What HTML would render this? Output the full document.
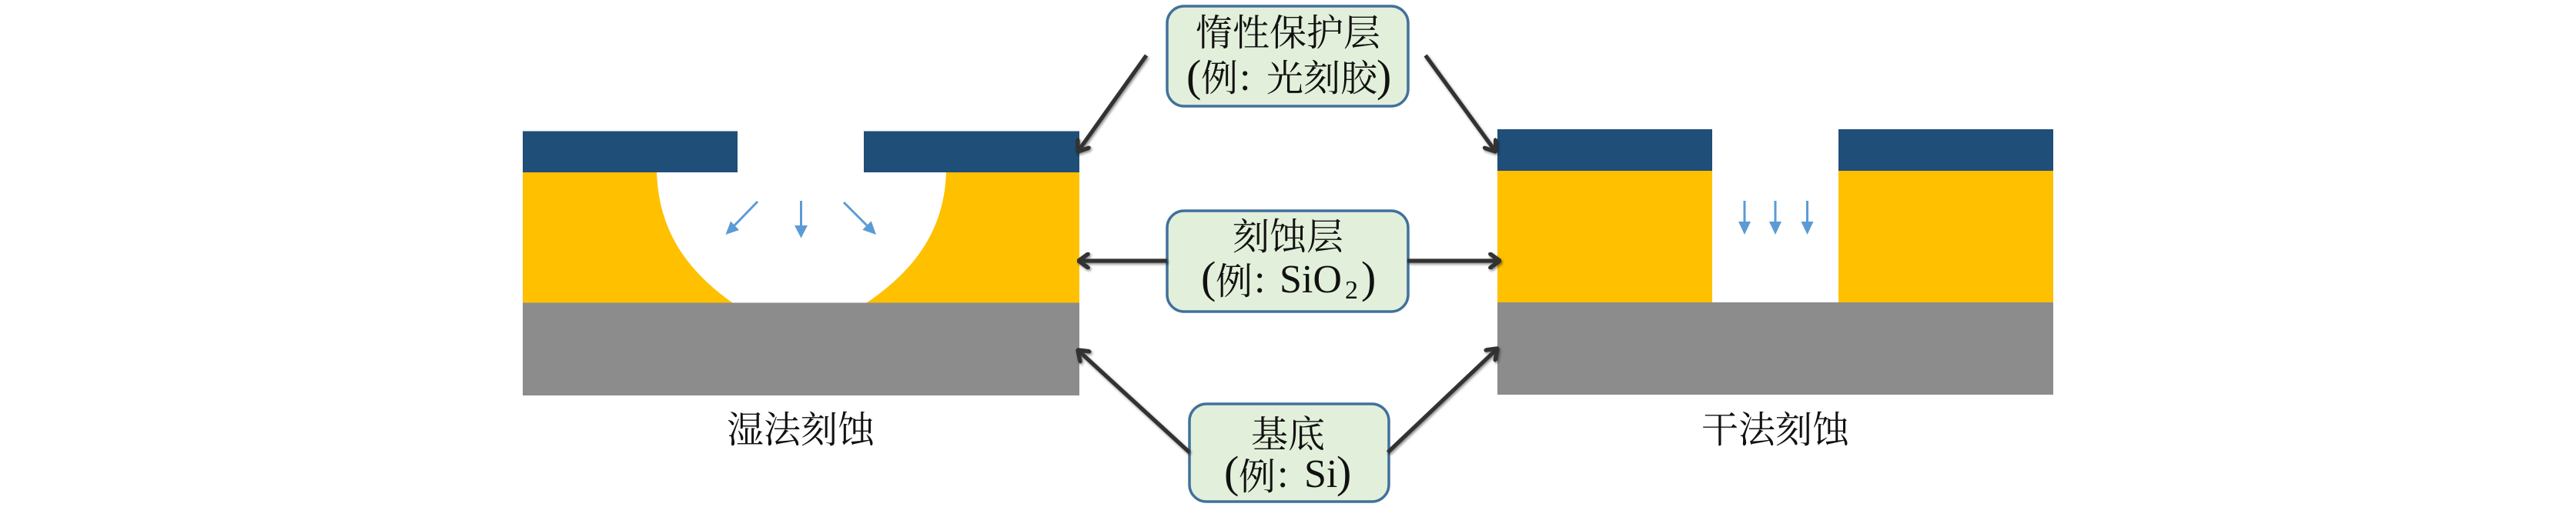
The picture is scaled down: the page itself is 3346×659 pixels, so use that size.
<!DOCTYPE html>
<html><head><meta charset="utf-8"><style>
html,body{margin:0;padding:0;background:#fff;width:3346px;height:659px;overflow:hidden}
svg{display:block}
.c{font-family:"Liberation Serif","Noto Serif CJK SC",serif;font-size:48px;fill:#111}
.l{font-family:"Liberation Serif",serif;font-size:52px;fill:#111}
.p{font-family:"Liberation Serif",serif;font-size:58px;fill:#111}
</style></head><body>
<svg width="3346" height="659" viewBox="0 0 3346 659" xmlns="http://www.w3.org/2000/svg">
<defs>
<filter id="s" x="-30%" y="-30%" width="160%" height="160%"><feDropShadow dx="1.5" dy="2" stdDeviation="1.6" flood-color="#000" flood-opacity=".45"/></filter>
<marker id="o" viewBox="0 0 20 20" refX="18" refY="10" markerWidth="22" markerHeight="22" markerUnits="userSpaceOnUse" orient="auto-start-reverse"><path d="M7,2 L18,10 L7,18" fill="none" stroke="#333" stroke-width="5" stroke-linejoin="round" stroke-linecap="round"/></marker>
</defs>
<!-- wet -->
<rect x="679" y="224" width="723" height="170" fill="#ffc000"/>
<path d="M853,223 C855,292 885,347 952,394 L1125,394 C1195,347 1227,292 1229,223 Z" fill="#fff"/>
<rect x="679" y="393.500" width="723" height="120.500" fill="#8c8c8c"/>
<rect x="679" y="170.500" width="279" height="53.500" fill="#1f4e79"/>
<rect x="1122" y="170.500" width="280" height="53.500" fill="#1f4e79"/>
<g stroke="#5b9bd5" stroke-width="3" fill="#5b9bd5">
<line x1="984" y1="262" x2="954" y2="293"/><path d="M942.500,305 L949,287.500 L960,299 Z" stroke="none"/>
<line x1="1040.500" y1="261" x2="1040.500" y2="295"/><path d="M1032,293 H1049 L1040.500,309.500 Z" stroke="none"/>
<line x1="1096" y1="263" x2="1126" y2="293"/><path d="M1138,305 L1131.700,287.300 L1120.300,298.700 Z" stroke="none"/>
</g>
<!-- dry -->
<rect x="1945" y="222" width="279" height="171.500" fill="#ffc000"/>
<rect x="2388" y="222" width="279" height="171.500" fill="#ffc000"/>
<rect x="1945" y="393" width="722" height="120" fill="#8c8c8c"/>
<rect x="1945" y="168" width="279" height="54" fill="#1f4e79"/>
<rect x="2388" y="168" width="279" height="54" fill="#1f4e79"/>
<g stroke="#5b9bd5" stroke-width="3" fill="#5b9bd5">
<line x1="2266" y1="261" x2="2266" y2="290"/><path d="M2258,288 H2274 L2266,305 Z" stroke="none"/>
<line x1="2306" y1="261" x2="2306" y2="290"/><path d="M2298,288 H2314 L2306,305 Z" stroke="none"/>
<line x1="2347.500" y1="261" x2="2347.500" y2="290"/><path d="M2339.500,288 H2355.500 L2347.500,305 Z" stroke="none"/>
</g>
<!-- boxes -->
<g fill="#e2efda" stroke="#41719c" stroke-width="3.500">
<rect x="1516" y="8" width="313" height="130" rx="22"/>
<rect x="1516" y="274" width="313" height="131" rx="22"/>
<rect x="1545" y="525" width="259" height="127" rx="22"/>
</g>
<!-- dark arrows -->
<g stroke="#333" stroke-width="5.200" fill="none" filter="url(#s)">
<line x1="1489" y1="72" x2="1400" y2="197" marker-end="url(#o)"/>
<line x1="1851.600" y1="72" x2="1942.700" y2="197" marker-end="url(#o)"/>
<line x1="1516" y1="339" x2="1401" y2="339" marker-end="url(#o)"/>
<line x1="1828" y1="339" x2="1948" y2="339" marker-end="url(#o)"/>
<line x1="1545" y1="588" x2="1400" y2="455" marker-end="url(#o)"/>
<line x1="1802.600" y1="588" x2="1945" y2="453" marker-end="url(#o)"/>
</g>
<!-- text -->
<text class="c" x="1040" y="575" text-anchor="middle">湿法刻蚀</text>
<text class="c" x="2306" y="575" text-anchor="middle">干法刻蚀</text>
<text class="c" x="1673" y="59" text-anchor="middle">惰性保护层</text>
<text class="p" x="1541" y="118">(</text><text class="c" x="1560" y="118">例</text><text class="l" x="1610" y="117">:</text><text class="c" x="1645" y="118">光刻胶</text><text class="p" x="1788" y="118">)</text>
<text class="c" x="1673" y="324" text-anchor="middle">刻蚀层</text>
<text class="p" x="1560" y="380">(</text><text class="c" x="1579" y="382">例</text><text class="l" x="1629" y="380">:</text><text class="l" x="1662" y="380">SiO</text><text class="l" x="1747" y="388" style="font-size:34px">2</text><text class="p" x="1768" y="380">)</text>
<text class="c" x="1673" y="581" text-anchor="middle">基底</text>
<text class="p" x="1590" y="633">(</text><text class="c" x="1609" y="636">例</text><text class="l" x="1659" y="633">:</text><text class="l" x="1694" y="633">Si</text><text class="p" x="1736" y="633">)</text>
</svg>
</body></html>
